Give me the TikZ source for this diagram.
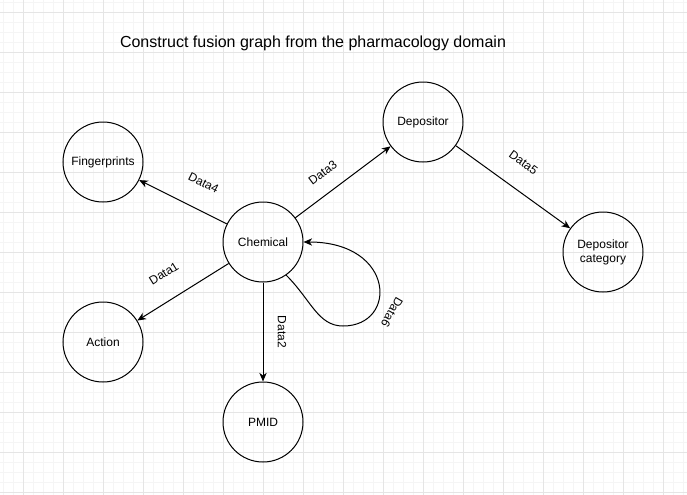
\documentclass[tikz,border=0pt]{standalone}
\usepackage{fontspec}
\setmainfont{Liberation Sans}
\usetikzlibrary{positioning,arrows.meta}
\definecolor{gridmajor}{RGB}{229,229,229}
\definecolor{gridminor}{RGB}{245,245,245}

\begin{document}
\begin{tikzpicture}[entity/.style={circle,draw,line width=0.75pt,minimum size=60pt,inner sep=0pt,align=center,font=\fontsize{9pt}{10.5pt}\selectfont},
        lbl/.style={inner sep=0pt,font=\fontsize{9pt}{10.5pt}\selectfont},
        edge/.style={line width=0.75pt,-{Stealth[length=6.5pt,width=5.5pt,inset=2pt]}},
        on grid]
        \useasboundingbox (0,0) rectangle (515.25pt,-370.5pt);
        \begin{scope}
            \clip (0,0) rectangle (515.25pt,-370.5pt);
            \draw[gridminor,line width=0.75pt,step=7.5pt,shift={(17.25pt,-9.5pt)}] (-30pt,-390pt) grid (510pt,30pt);
            \draw[gridmajor,line width=0.75pt,step=30pt,shift={(17.25pt,-9.5pt)}] (-30pt,-390pt) grid (510pt,30pt);
        \end{scope}

        \node[font=\fontsize{12pt}{14pt}\selectfont] (title) at (234.75pt,-32.25pt) {Construct fusion graph from the pharmacology domain};

        \node[entity] (chem) at (197.25pt,-181.5pt) {Chemical};
        \node[entity] (fp) [above left=60pt and 120pt of chem] {Fingerprints};
        \node[entity] (dep) [above right=90pt and 120pt of chem] {Depositor};
        \node[entity] (cat) [below right=97.5pt and 135pt of dep] {Depositor\\category};
        \node[entity] (act) [below left=75pt and 120pt of chem] {Action};
        \node[entity] (pmid) [below=135pt of chem] {PMID};

        \foreach \a/\b/\t/\p/\d in {chem/fp/Data4/.40/16.25pt,chem/dep/Data3/.41/11pt,dep/cat/Data5/.46/15.75pt,chem/act/Data1/.56/15.75pt}{
            \draw[edge] (\a) -- node[lbl,sloped,pos=\p,above=\d] {\t} (\b);
        }
        \draw[edge] (chem) -- node[lbl,midway,xshift=14.25pt,rotate=-90] {Data2} (pmid);

        \coordinate (loopbot) at ([shift={(60pt,-63pt)}]chem.center);
        \draw[edge] (chem.-55) .. controls +(18.75pt,-18.75pt) and +(-18.75pt,0pt) .. (loopbot)
            .. controls +(41.25pt,0pt) and +(69pt,0pt) .. (chem.east);
        \node[lbl,rotate=-120] (d6) at ([shift={(96.75pt,-52.5pt)}]chem.center) {Data6};
    \end{tikzpicture}
\end{document}
